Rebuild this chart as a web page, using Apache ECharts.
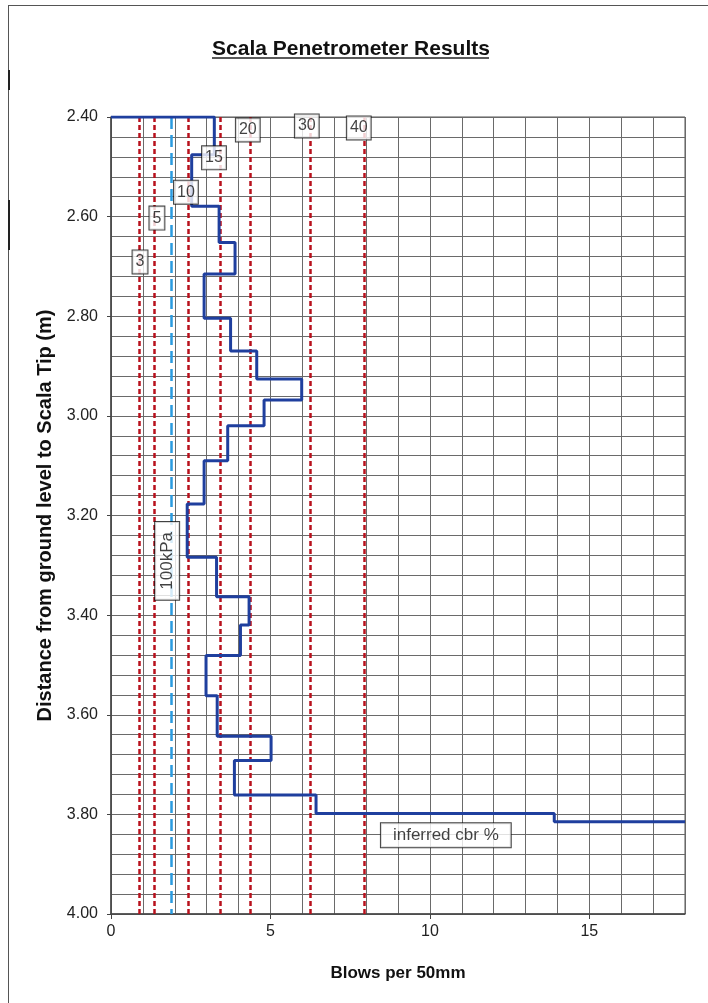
<!DOCTYPE html>
<html>
<head>
<meta charset="utf-8">
<script src="https://cdn.jsdelivr.net/npm/echarts@6/dist/echarts.min.js"></script>
<style>
html,body{margin:0;padding:0;background:#fff;}
#chart{width:708px;height:1003px;}
</style>
</head>
<body>
<div id="chart"></div>
<script>
// ---- data ----
// depth (m) at which each blow count starts
const depthStart = [2.40, 2.476, 2.579, 2.652, 2.715, 2.804, 2.870, 2.926, 2.968, 3.020, 3.090, 3.177, 3.284, 3.363, 3.420, 3.481, 3.562, 3.643, 3.692, 3.761, 3.798, 3.815];
// blows per 50mm
const blows = [3.24, 2.53, 3.39, 3.89, 2.92, 3.75, 4.57, 5.98, 4.80, 3.66, 2.92, 2.39, 3.31, 4.33, 4.06, 2.98, 3.33, 5.02, 3.87, 6.43, 13.90, 18.0];
// inferred CBR % reference lines (blows per 50mm)
const cbrNames = ['3', '5', '10', '15', '20', '30', '40'];
const cbrBlows = [0.89, 1.36, 2.42, 3.42, 4.38, 6.26, 7.94];
// 100kPa bearing line
const kpaName = '100kPa';
const kpaBlows = 1.9;
// axis ticks
const yMin = 2.40, yMax = 4.00, yStep = 0.20;
const xMin = 0, xMax = 18, xStep = 5;

// ---- annotation anchors (data coords) ----
const cbrLabelX = [0.91, 1.44, 2.35, 3.23, 4.29, 6.14, 7.77];
const cbrLabelY = [2.691, 2.603, 2.551, 2.482, 2.426, 2.418, 2.422];
const kpaLabel = [1.76, 3.291];
const cbrNote = ['inferred cbr %', 10.5, 3.842];

// ---- build step line ----
const stepPts = [[0, depthStart[0]]];
for (let i = 0; i < blows.length; i++) {
  stepPts.push([blows[i], depthStart[i]]);
  if (i < blows.length - 1) stepPts.push([blows[i], depthStart[i + 1]]);
}

const chart = echarts.init(document.getElementById('chart'), null, {renderer: 'canvas'});
const FONT = 'Liberation Sans, Arial, sans-serif';
const gridColor = '#6a6a6a';
const boxLabel = {
  show: true, position: 'inside', color: '#111', fontFamily: FONT, fontSize: 16,
  backgroundColor: '#fff', borderColor: '#111', borderWidth: 1, padding: [4, 3, 3, 3]
};

const option = {
  backgroundColor: '#fff',
  animation: false,
  title: {
    text: 'Scala Penetrometer Results',
    left: 346, top: 34, textAlign: 'center',
    textStyle: {fontFamily: FONT, fontWeight: 'bold', fontSize: 21, color: '#111'}
  },
  graphic: [
    {type: 'line', shape: {x1: 212, y1: 58, x2: 489, y2: 58}, style: {stroke: '#222', lineWidth: 1.5}},
    {type: 'line', shape: {x1: 8.5, y1: 5, x2: 8.5, y2: 1003}, style: {stroke: '#555', lineWidth: 1}},
    {type: 'line', shape: {x1: 8, y1: 5.5, x2: 708, y2: 5.5}, style: {stroke: '#555', lineWidth: 1}},
    {type: 'line', shape: {x1: 9, y1: 70, x2: 9, y2: 90}, style: {stroke: '#222', lineWidth: 2}},
    {type: 'line', shape: {x1: 9, y1: 200, x2: 9, y2: 250}, style: {stroke: '#222', lineWidth: 2}}
  ],
  grid: {left: 111, top: 117, right: 23, bottom: 89, show: true, borderColor: '#555', borderWidth: 1, backgroundColor: '#fff'},
  xAxis: [
    {
      type: 'value', min: xMin, max: xMax, interval: xStep, position: 'bottom',
      name: 'Blows per 50mm', nameLocation: 'middle', nameGap: 51,
      nameTextStyle: {fontFamily: FONT, fontWeight: 'bold', fontSize: 17, color: '#111'},
      axisLine: {show: true, lineStyle: {color: '#444', width: 1.5}},
      axisTick: {show: true, inside: false, length: 5, lineStyle: {color: '#444'}},
      axisLabel: {show: true, margin: 10, fontFamily: FONT, fontSize: 16, color: '#222', showMaxLabel: false},
      splitLine: {show: false}
    },
    {
      type: 'value', min: xMin, max: xMax, interval: 1, position: 'top',
      axisLine: {show: false}, axisTick: {show: false}, axisLabel: {show: false},
      splitLine: {show: true, lineStyle: {color: gridColor, width: 1}}
    }
  ],
  yAxis: {
    type: 'value', inverse: true, min: yMin, max: yMax, interval: yStep,
    name: 'Distance from ground level to Scala Tip (m)', nameLocation: 'middle', nameGap: 53,
    nameTextStyle: {fontFamily: FONT, fontWeight: 'bold', fontSize: 20, color: '#111'},
    axisLine: {show: true, lineStyle: {color: '#444', width: 1.5}},
    axisTick: {show: true, inside: false, length: 4, lineStyle: {color: '#444'}},
    axisLabel: {show: true, margin: 13, fontFamily: FONT, fontSize: 16, color: '#222', formatter: v => v.toFixed(2)},
    splitLine: {show: true, lineStyle: {color: gridColor, width: 1}},
    minorTick: {show: false, splitNumber: 5},
    minorSplitLine: {show: true, lineStyle: {color: gridColor, width: 1}}
  },
  series: [
    {
      name: 'cbr', type: 'line', data: [], xAxisIndex: 0, z: 3,
      markLine: {
        silent: true, symbol: 'none', animation: false,
        label: {show: false},
        lineStyle: {color: '#b8111c', width: 2.5, type: [5, 3]},
        data: cbrBlows.map(v => ({xAxis: v}))
      }
    },
    {
      name: 'kpa', type: 'line', data: [], xAxisIndex: 0, z: 3,
      markLine: {
        silent: true, symbol: 'none', animation: false,
        label: {show: false},
        lineStyle: {color: '#2a9be0', width: 2.5, type: [12, 6]},
        data: [{xAxis: kpaBlows}]
      }
    },
    {
      name: 'scala', type: 'line', data: stepPts, xAxisIndex: 0, z: 5,
      symbol: 'none', clip: true,
      lineStyle: {color: '#1f3f9e', width: 3}
    },
    {
      name: 'cbrLabels', type: 'scatter', xAxisIndex: 0, z: 8, symbolSize: 0,
      data: cbrNames.map((n, i) => ({name: n, value: [cbrLabelX[i], cbrLabelY[i]]})),
      label: Object.assign({}, boxLabel, {formatter: p => p.name})
    },
    {
      name: 'kpaLabel', type: 'scatter', xAxisIndex: 0, z: 8, symbolSize: 0,
      data: [{name: kpaName, value: kpaLabel}],
      label: Object.assign({}, boxLabel, {formatter: p => p.name, rotate: 90, fontSize: 17, padding: [4, 10, 3, 10]})
    },
    {
      name: 'note', type: 'scatter', xAxisIndex: 0, z: 8, symbolSize: 0,
      data: [{name: cbrNote[0], value: [cbrNote[1], cbrNote[2]]}],
      label: Object.assign({}, boxLabel, {formatter: p => p.name, fontSize: 17, padding: [4, 12, 3, 12]})
    }
  ]
};
chart.setOption(option);
</script>
</body>
</html>
